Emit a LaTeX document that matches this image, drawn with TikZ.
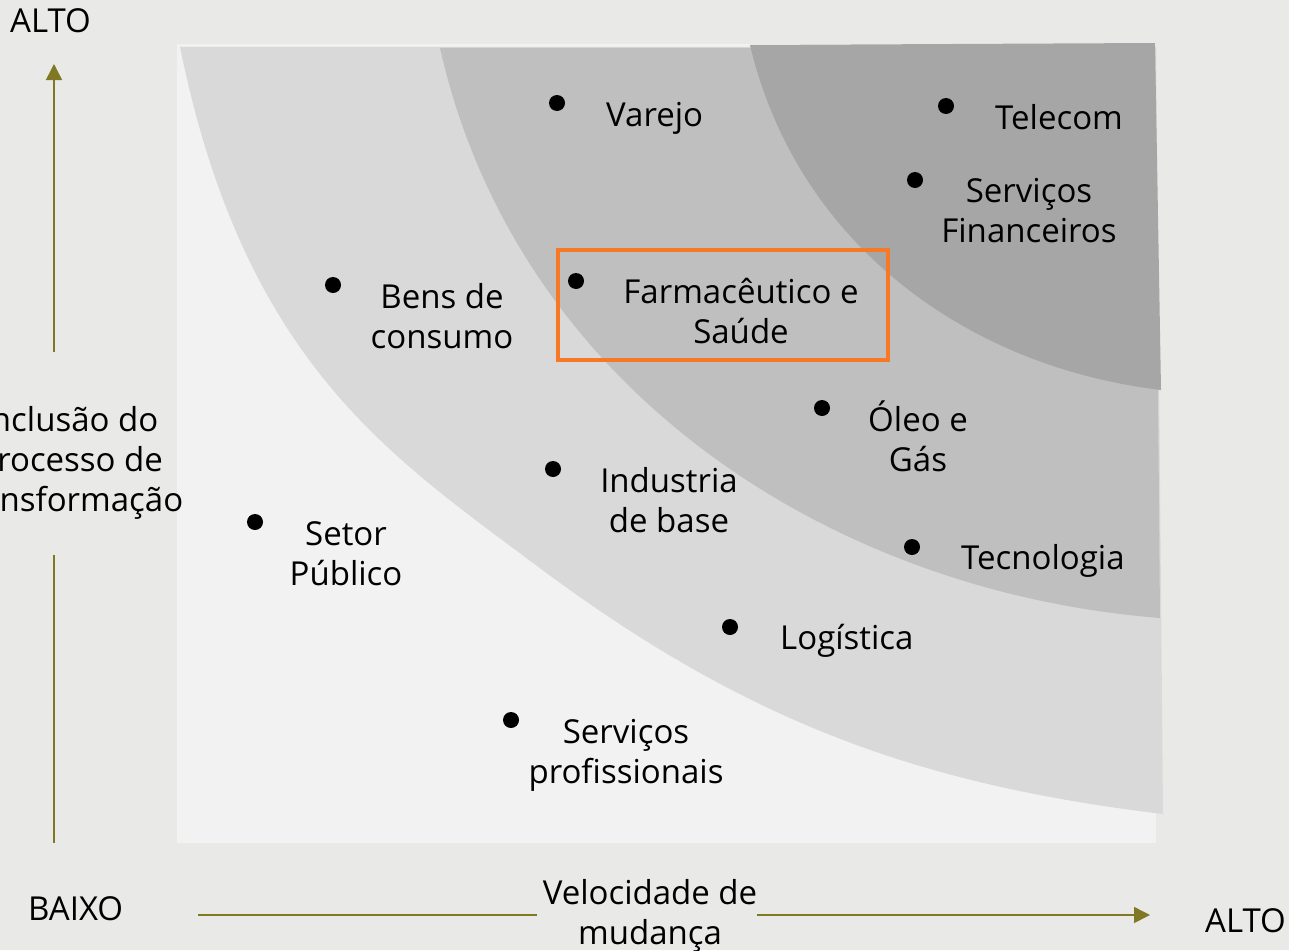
\documentclass[tikz,border=0pt]{standalone}
\usepackage{fontspec}
\setmainfont{Open Sans}
\usetikzlibrary{arrows.meta}
\definecolor{bg}{RGB}{233,233,231}
\definecolor{panel}{RGB}{242,242,242}
\definecolor{bandA}{RGB}{217,217,217}
\definecolor{bandB}{RGB}{191,191,191}
\definecolor{bandC}{RGB}{166,166,166}
\definecolor{accent}{RGB}{247,121,38}
\definecolor{olive}{RGB}{128,120,36}
\newcommand{\mlines}[1]{\begin{tabular}[t]{@{}c@{}}#1\end{tabular}}
\begin{document}
\begin{tikzpicture}[x=1pt,y=-1pt,
  lbl/.style={font=\fontsize{33}{40}\selectfont, text=black, inner sep=0pt},
  dot/.style={circle, fill=black, minimum size=16pt, inner sep=0pt},
  axisline/.style={draw=olive, line width=1.5pt},
  axisarrow/.style={axisline, -{Triangle[length=16pt,width=16pt]}},
  hilite/.style={draw=accent, line width=4.5pt}]
\useasboundingbox (0,0) rectangle (1289,950);
\fill[bg] (0,0) rectangle (1289,950);
% panel and bands
\fill[panel] (177,44) rectangle (1156,843);
\fill[bandA] (180,47) .. controls (244,361) and (389,455) .. (533,563)
  .. controls (741,719) and (913,784) .. (1163,814) -- (1156,47) -- cycle;
\fill[bandB] (440,48) .. controls (517,389) and (830,592) .. (1160,618) -- (1155,48) -- cycle;
\fill[bandC] (750,45) .. controls (796,239) and (961,366) .. (1161,390) -- (1155,43) -- cycle;
% highlight box
\draw[hilite] (558,250) rectangle (888,360);
% dots
\node[dot] (d1) at (557,103) {};
\node[dot] (d2) at (946,106) {};
\node[dot] (d3) at (915,180) {};
\node[dot] (d4) at (333,285) {};
\node[dot] (d5) at (576,281) {};
\node[dot] (d6) at (822,408) {};
\node[dot] (d7) at (553,469) {};
\node[dot] (d8) at (255,522) {};
\node[dot] (d9) at (912,547) {};
\node[dot] (d10) at (730,627) {};
\node[dot] (d11) at (511,720) {};
% labels
\node[lbl, anchor=base west] (t1) at (606,126) {Varejo};
\node[lbl, anchor=base west] (t2) at (995,129) {Telecom};
\node[lbl, anchor=base] (t3) at (1029,202) {\mlines{Serviços\\Financeiros}};
\node[lbl, anchor=base] (t4) at (442,308) {\mlines{Bens de\\consumo}};
\node[lbl, anchor=base] (t5) at (741,303) {\mlines{Farmacêutico e\\Saúde}};
\node[lbl, anchor=base] (t6) at (918,431) {\mlines{Óleo e\\Gás}};
\node[lbl, anchor=base] (t7) at (669,492) {\mlines{Industria\\de base}};
\node[lbl, anchor=base] (t8) at (346,545) {\mlines{Setor\\Público}};
\node[lbl, anchor=base west] (t9) at (961,569) {Tecnologia};
\node[lbl, anchor=base west] (t10) at (780,649) {Logística};
\node[lbl, anchor=base] (t11) at (626,743) {\mlines{Serviços\\profissionais}};
% axes labels
\node[lbl, anchor=base west] (ytop) at (10,33) {ALTO};
\node[lbl, anchor=base west] (low) at (28,920) {BAIXO};
\node[lbl, anchor=base west] (xtop) at (1205,932) {ALTO};
\node[lbl, anchor=base] (ylab) at (70,431) {\mlines{Inclusão do\\processo de\\transformação}};
\node[lbl, anchor=base] (xlab) at (650,904) {\mlines{Velocidade de\\mudança}};
% axes
\coordinate (ya) at (54,352);
\coordinate (yb) at (54,64);
\coordinate (yc) at (54,555);
\coordinate (yd) at (54,843);
\coordinate (xa) at (198,915);
\coordinate (xb) at (537,915);
\coordinate (xc) at (757,915);
\coordinate (xd) at (1150,915);
\draw[axisarrow] (ya) -- (yb);
\draw[axisline] (yc) -- (yd);
\draw[axisline] (xa) -- (xb);
\draw[axisarrow] (xc) -- (xd);
\end{tikzpicture}
\end{document}
